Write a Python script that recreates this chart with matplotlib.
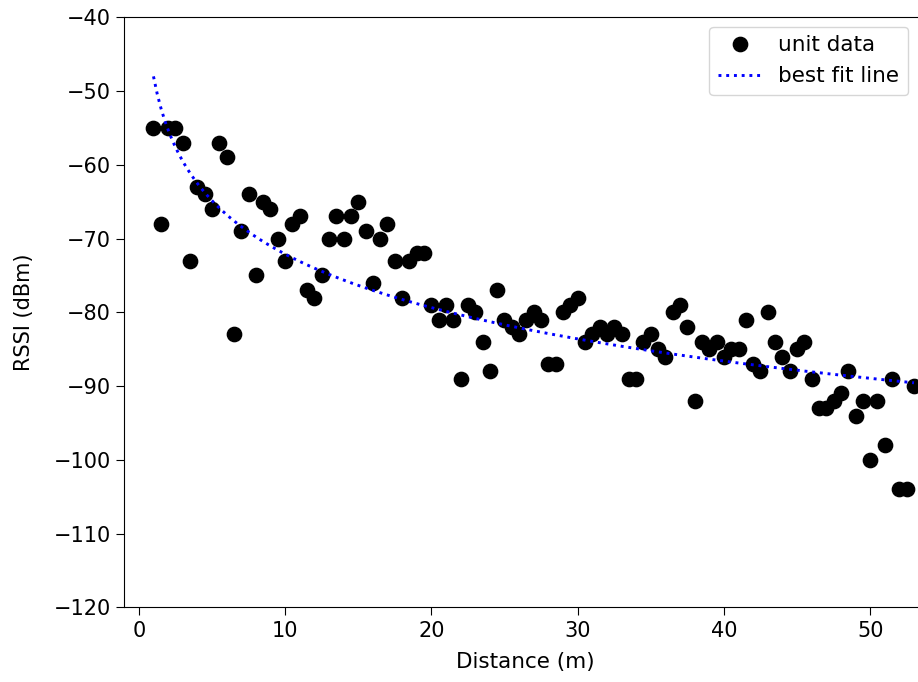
import numpy as np
import matplotlib
matplotlib.use("Agg")
import matplotlib.pyplot as plt

# measured RSSI vs distance (every 0.5 m)
distance = [1, 1.5, 2, 2.5, 3, 3.5, 4, 4.5, 5, 5.5, 6, 6.5, 7, 7.5, 8, 8.5, 9, 9.5,
            10, 10.5, 11, 11.5, 12, 12.5, 13, 13.5, 14, 14.5, 15, 15.5, 16, 16.5,
            17, 17.5, 18, 18.5, 19, 19.5, 20, 20.5, 21, 21.5, 22, 22.5, 23, 23.5,
            24, 24.5, 25, 25.5, 26, 26.5, 27, 27.5, 28, 28.5, 29, 29.5, 30, 30.5,
            31, 31.5, 32, 32.5, 33, 33.5, 34, 34.5, 35, 35.5, 36, 36.5, 37, 37.5,
            38, 38.5, 39, 39.5, 40, 40.5, 41, 41.5, 42, 42.5, 43, 43.5, 44, 44.5,
            45, 45.5, 46, 46.5, 47, 47.5, 48, 48.5, 49, 49.5, 50, 50.5, 51, 51.5,
            52, 52.5, 53]
rssi = [-55, -68, -55, -55, -57, -73, -63, -64, -66, -57, -59, -83, -69, -64, -75, -65, -66, -70,
        -73, -68, -67, -77, -78, -75, -70, -67, -70, -67, -65, -69, -76, -70,
        -68, -73, -78, -73, -72, -72, -79, -81, -79, -81, -89, -79, -80, -84,
        -88, -77, -81, -82, -83, -81, -80, -81, -87, -87, -80, -79, -78, -84,
        -83, -82, -83, -82, -83, -89, -89, -84, -83, -85, -86, -80, -79, -82,
        -92, -84, -85, -84, -86, -85, -85, -81, -87, -88, -80, -84, -86, -88,
        -85, -84, -89, -93, -93, -92, -91, -88, -94, -92, -100, -92, -98, -89,
        -104, -104, -90]

# log-distance fit: rssi = fit_a + fit_b * log10(d)
fit_a = -48.0
fit_b = -24.1

fig = plt.figure(figsize=(9.18, 6.82), dpi=100)
ax = fig.add_axes([0.135, 0.1095, 0.875, 0.865])

ax.plot(distance, rssi, 'o', color='black', markersize=10.3, label='unit data')
d_fit = np.linspace(min(distance), max(distance), 200)
ax.plot(d_fit, fit_a + fit_b * np.log10(d_fit), ':', color='blue', linewidth=2.1,
        label='best fit line')

ax.set_xlim(-1.02, 53.9)
ax.set_ylim(-120, -40)
ax.set_xticks([0, 10, 20, 30, 40, 50])
ax.set_yticks(np.arange(-120, -39, 10))
ax.spines['right'].set_visible(False)
ax.tick_params(labelsize=15, length=6)
ax.set_xlabel('Distance (m)', fontsize=15.5, labelpad=8)
ax.set_ylabel('RSSI (dBm)', fontsize=15, labelpad=14)
ax.legend(loc='upper right', bbox_to_anchor=(0.976, 0.984), borderaxespad=0,
          fontsize=15.5, handlelength=2.0)

plt.savefig('out.png', dpi=100)
